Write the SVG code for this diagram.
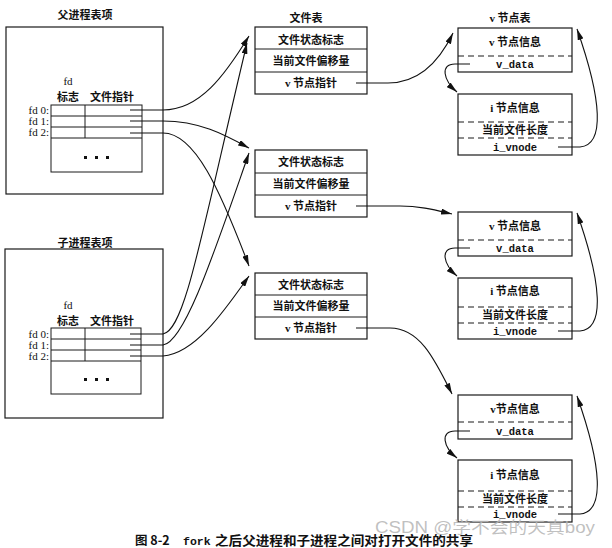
<svg xmlns="http://www.w3.org/2000/svg" width="612" height="548" viewBox="0 0 612 548">
<style>
.bx{fill:none;stroke:#1a1a1a;stroke-width:1.2}
.ln{fill:none;stroke:#1a1a1a;stroke-width:1}
.ds{fill:none;stroke:#1a1a1a;stroke-width:1.1;stroke-dasharray:6,4}
.cn{fill:none;stroke:#111;stroke-width:1.1}
.t{font-family:"Noto Sans CJK SC",sans-serif;font-size:11px;font-weight:bold;text-anchor:middle;fill:#111}
.m{font-family:"Liberation Mono",monospace;font-size:10.5px;font-weight:bold;text-anchor:middle;fill:#111}
.fd{font-family:"Liberation Serif",serif;font-size:11px;text-anchor:end;fill:#111}
.fdh{font-family:"Liberation Serif",serif;font-size:11px;text-anchor:middle;fill:#111}
.dot{fill:#111}
</style>
<defs>
<marker id="ah" markerWidth="11" markerHeight="6" refX="11" refY="3" orient="auto" markerUnits="userSpaceOnUse">
<path d="M0,0 L11,3 L0,6 z" fill="#111"/>
</marker>
</defs>
<rect width="612" height="548" fill="#fff"/>

<g id="parent-proc">
<text class="t" x="85" y="19">父进程表项</text>
<rect class="bx" x="6" y="27" width="157" height="167"/>
<text class="fdh" x="68" y="85">fd</text>
<text class="t" x="68" y="101">标志</text>
<text class="t" x="112" y="101">文件指针</text>
<rect class="ln" x="51" y="105" width="91" height="67"/>
<line class="ln" x1="51" y1="116" x2="142" y2="116"/>
<line class="ln" x1="51" y1="127" x2="142" y2="127"/>
<line class="ln" x1="51" y1="138" x2="142" y2="138"/>
<line class="ln" x1="85" y1="105" x2="85" y2="138"/>
<text class="fd" x="49" y="114">fd 0:</text>
<text class="fd" x="49" y="125">fd 1:</text>
<text class="fd" x="49" y="136">fd 2:</text>
<rect class="dot" x="84" y="156" width="3" height="3"/>
<rect class="dot" x="95" y="156" width="3" height="3"/>
<rect class="dot" x="106" y="156" width="3" height="3"/>
</g>

<g id="child-proc">
<text class="t" x="85" y="247">子进程表项</text>
<rect class="bx" x="5" y="249" width="158" height="169"/>
<text class="fdh" x="68" y="309">fd</text>
<text class="t" x="68" y="325">标志</text>
<text class="t" x="112" y="325">文件指针</text>
<rect class="ln" x="51" y="328" width="90" height="66"/>
<line class="ln" x1="51" y1="339" x2="141" y2="339"/>
<line class="ln" x1="51" y1="350" x2="141" y2="350"/>
<line class="ln" x1="51" y1="361" x2="141" y2="361"/>
<line class="ln" x1="85" y1="328" x2="85" y2="361"/>
<text class="fd" x="49" y="338">fd 0:</text>
<text class="fd" x="49" y="349">fd 1:</text>
<text class="fd" x="49" y="360">fd 2:</text>
<rect class="dot" x="84" y="378" width="3" height="3"/>
<rect class="dot" x="95" y="378" width="3" height="3"/>
<rect class="dot" x="106" y="378" width="3" height="3"/>
</g>

<g id="file-table-1">
<text class="t" x="306" y="22">文件表</text>
<rect class="bx" x="255" y="27" width="112" height="67"/>
<line class="ln" x1="255" y1="49" x2="367" y2="49"/>
<line class="ln" x1="255" y1="72" x2="367" y2="72"/>
<text class="t" x="311" y="44">文件状态标志</text>
<text class="t" x="311" y="65">当前文件偏移量</text>
<text class="t" x="311" y="87"><tspan font-family="Liberation Serif">v</tspan> 节点指针</text>
</g>

<g id="file-table-2">
<rect class="bx" x="255" y="150" width="112" height="67"/>
<line class="ln" x1="255" y1="173" x2="367" y2="173"/>
<line class="ln" x1="255" y1="195" x2="367" y2="195"/>
<text class="t" x="311" y="166">文件状态标志</text>
<text class="t" x="311" y="188">当前文件偏移量</text>
<text class="t" x="311" y="210"><tspan font-family="Liberation Serif">v</tspan> 节点指针</text>
</g>

<g id="file-table-3">
<rect class="bx" x="255" y="273" width="112" height="66"/>
<line class="ln" x1="255" y1="295" x2="367" y2="295"/>
<line class="ln" x1="255" y1="317" x2="367" y2="317"/>
<text class="t" x="311" y="289">文件状态标志</text>
<text class="t" x="311" y="310">当前文件偏移量</text>
<text class="t" x="311" y="332"><tspan font-family="Liberation Serif">v</tspan> 节点指针</text>
</g>

<g id="vnode-1">
<text class="t" x="510" y="22"><tspan font-family="Liberation Serif">v</tspan> 节点表</text>
<rect class="bx" x="458" y="28" width="114" height="44"/>
<line class="ds" x1="458" y1="56" x2="572" y2="56"/>
<text class="t" x="515" y="46"><tspan font-family="Liberation Serif">v</tspan> 节点信息</text>
<text class="m" x="515" y="67.5">v_data</text>
<rect class="bx" x="458" y="94" width="114" height="61"/>
<line class="ds" x1="458" y1="122" x2="572" y2="122"/>
<line class="ds" x1="458" y1="138" x2="572" y2="138"/>
<text class="t" x="515" y="112"><tspan font-family="Liberation Serif">i</tspan> 节点信息</text>
<text class="t" x="515" y="134">当前文件长度</text>
<text class="m" x="515" y="150.5">i_vnode</text>
</g>

<g id="vnode-2">
<rect class="bx" x="458" y="212" width="114" height="44"/>
<line class="ds" x1="458" y1="240" x2="572" y2="240"/>
<text class="t" x="515" y="230"><tspan font-family="Liberation Serif">v</tspan> 节点信息</text>
<text class="m" x="515" y="251.5">v_data</text>
<rect class="bx" x="458" y="278" width="114" height="61"/>
<line class="ds" x1="458" y1="307" x2="572" y2="307"/>
<line class="ds" x1="458" y1="323" x2="572" y2="323"/>
<text class="t" x="515" y="295"><tspan font-family="Liberation Serif">i</tspan> 节点信息</text>
<text class="t" x="515" y="319">当前文件长度</text>
<text class="m" x="515" y="334.5">i_vnode</text>
</g>

<g id="vnode-3">
<rect class="bx" x="458" y="395" width="114" height="44"/>
<line class="ds" x1="458" y1="422" x2="572" y2="422"/>
<text class="t" x="515" y="413"><tspan font-family="Liberation Serif">v</tspan>节点信息</text>
<text class="m" x="515" y="434.5">v_data</text>
<rect class="bx" x="458" y="460" width="114" height="62"/>
<line class="ds" x1="458" y1="491" x2="572" y2="491"/>
<line class="ds" x1="458" y1="507" x2="572" y2="507"/>
<text class="t" x="515" y="479"><tspan font-family="Liberation Serif">i</tspan> 节点信息</text>
<text class="t" x="515" y="503">当前文件长度</text>
<text class="m" x="515" y="517.5">i_vnode</text>
</g>

<g id="connectors">
<path class="cn" marker-end="url(#ah)" d="M130,110 H163 C200,110 225,75 249,36"/>
<path class="cn" marker-end="url(#ah)" d="M130,121 H163 C200,121 225,135 249,148"/>
<path class="cn" marker-end="url(#ah)" d="M130,133 H163 C195,133 220,190 249,266"/>
<path class="cn" marker-end="url(#ah)" d="M130,334 H163 C185,330 200,240 247,43"/>
<path class="cn" marker-end="url(#ah)" d="M130,345 H163 C185,342 215,250 249,153"/>
<path class="cn" marker-end="url(#ah)" d="M130,356 H163 C195,354 225,310 249,276"/>
<path class="cn" marker-end="url(#ah)" d="M356,83 H388 C420,83 440,60 453,33"/>
<path class="cn" marker-end="url(#ah)" d="M356,206 H400 C420,206 435,210 452,214"/>
<path class="cn" marker-end="url(#ah)" d="M356,328 H390 C420,328 435,360 452,394"/>
<path class="cn" marker-end="url(#ah)" d="M470,64 H455 C440,64 443,80 457,92"/>
<path class="cn" marker-end="url(#ah)" d="M470,248 H455 C440,248 443,264 457,276"/>
<path class="cn" marker-end="url(#ah)" d="M470,431 H455 C440,431 443,447 457,458"/>
<path class="cn" marker-end="url(#ah)" d="M558,147 H580 C605,145 602,100 577,29"/>
<path class="cn" marker-end="url(#ah)" d="M558,331 H580 C605,329 602,284 577,213"/>
<path class="cn" marker-end="url(#ah)" d="M558,514 H580 C605,512 602,467 577,396"/>
</g>

<g id="caption">
<text x="135" y="545" font-family="'Noto Sans CJK SC',sans-serif" font-size="12.5" font-weight="bold" fill="#111">图 8-2</text>
<text x="183" y="545" font-family="'Liberation Mono',monospace" font-size="11.5" font-weight="bold" fill="#111">fork</text>
<text x="215" y="545" font-family="'Noto Sans CJK SC',sans-serif" font-size="13" font-weight="bold" fill="#111" textLength="258" lengthAdjust="spacingAndGlyphs">之后父进程和子进程之间对打开文件的共享</text>
</g>
<text x="375" y="533" font-family="'Liberation Sans','Noto Sans CJK SC',sans-serif" font-size="16" fill="#b5b5b5" fill-opacity="0.85" textLength="220" lengthAdjust="spacingAndGlyphs">CSDN @学不会的天真boy</text>
</svg>
